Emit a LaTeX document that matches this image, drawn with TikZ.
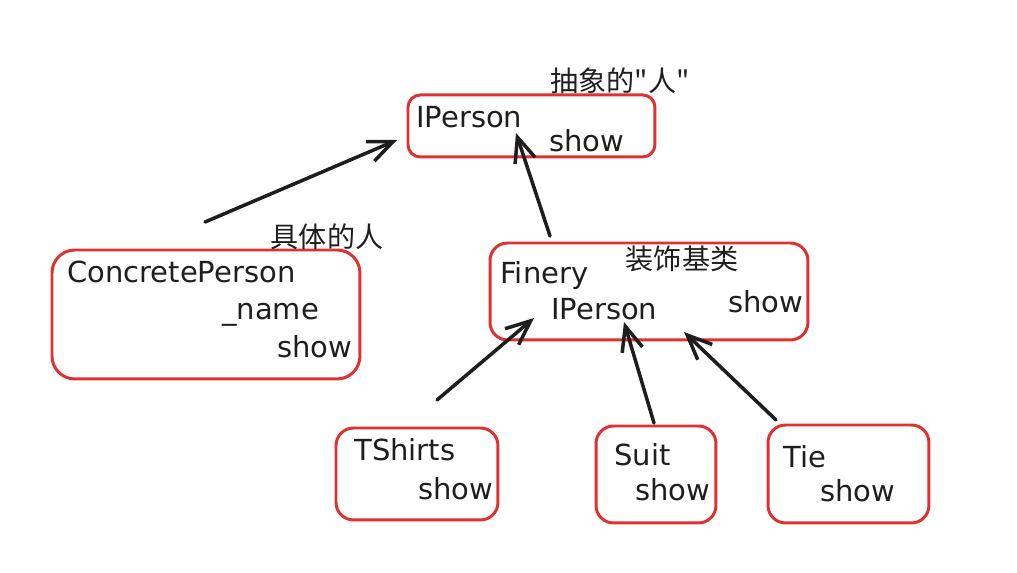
\documentclass[tikz,border=0pt]{standalone}
\usepackage{fontspec}
\setmainfont{DejaVu Sans}
\newfontfamily\cjk{Noto Sans CJK SC}
\usetikzlibrary{arrows.meta}
\definecolor{boxred}{HTML}{E03131}
\definecolor{ink}{HTML}{1E1E1E}
\begin{document}
\begin{tikzpicture}[x=0.02cm,y=-0.02cm,
  box/.style={draw=boxred, line width=1.7pt, rounded corners=10pt, anchor=north west, inner sep=0pt, outer sep=0pt},
  lbl/.style={anchor=base west, inner sep=0pt, text=ink, font=\fontsize{16.5}{18}\selectfont},
  cn/.style={inner sep=0pt, text=ink, font=\cjk\fontsize{16}{18}\selectfont},
  arr/.style={draw=ink, line width=2pt, line cap=round, -{Straight Barb[length=14pt,width=12pt,line width=2pt]}}]
\useasboundingbox (0,0) rectangle (1017,573);
% boxes
\node[box, rounded corners=7pt, minimum width=4.94cm, minimum height=1.24cm] (iperson) at (408,95) {};
\node[box, rounded corners=13pt, minimum width=6.16cm, minimum height=2.58cm] (concrete) at (52,250) {};
\node[box, minimum width=6.36cm, minimum height=1.94cm] (finery) at (490,243) {};
\node[box, minimum width=3.24cm, minimum height=1.84cm] (tshirts) at (336,428) {};
\node[box, minimum width=2.40cm, minimum height=1.94cm] (suit) at (596,426) {};
\node[box, minimum width=3.22cm, minimum height=1.96cm] (tie) at (768,425) {};
% texts
\node[cn] (t1) at (620,81) {抽象的"人"};
\node[lbl] (t2) at (416,128) {IPerson};
\node[lbl] (t3) at (549,152) {show};
\node[cn] (t4) at (327,237) {具体的人};
\node[lbl] (t5) at (67,283) {ConcretePerson};
\node[lbl] (t6) at (222,320) {\_name};
\node[lbl] (t7) at (277,358) {show};
\node[cn] (t8) at (682,259) {装饰基类};
\node[lbl] (t9) at (500,284) {Finery};
\node[lbl] (t10) at (551,320) {IPerson};
\node[lbl] (t11) at (728,313) {show};
\node[lbl] (t12) at (354,461) {TShirts};
\node[lbl] (t13) at (418,500) {show};
\node[lbl] (t14) at (614,466) {Suit};
\node[lbl] (t15) at (635,501) {show};
\node[lbl] (t16) at (783,468) {Tie};
\node[lbl] (t17) at (820,502) {show};
% arrow ends
\coordinate (a1s) at (205,222); \coordinate (a1e) at (397,140);
\coordinate (a2s) at (550,236); \coordinate (a2e) at (516,133);
\coordinate (a3s) at (437,400); \coordinate (a3e) at (534,318);
\coordinate (a4s) at (654,423); \coordinate (a4e) at (624,322);
\coordinate (a5s) at (776,420); \coordinate (a5e) at (684,332);
\draw[arr] (a1s) -- (a1e);
\draw[arr] (a2s) -- (a2e);
\draw[arr] (a3s) -- (a3e);
\draw[arr] (a4s) -- (a4e);
\draw[arr] (a5s) -- (a5e);
\end{tikzpicture}
\end{document}
